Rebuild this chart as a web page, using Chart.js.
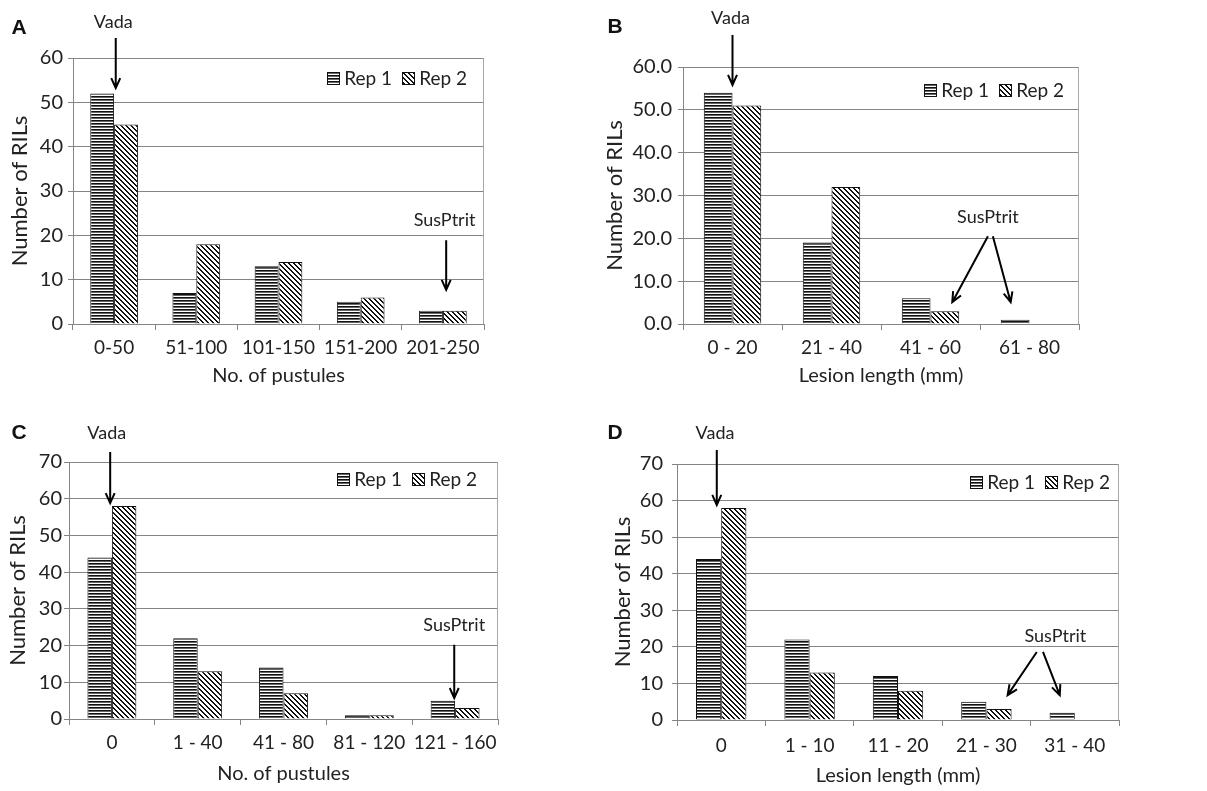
<!DOCTYPE html>
<html>
<head>
<meta charset="utf-8">
<title>RIL frequency distributions</title>
<script src="https://cdn.jsdelivr.net/npm/chart.js@4.4.1/dist/chart.umd.min.js"></script>
<style>
  body { margin: 0; background: #fff; }
  canvas { position: absolute; }
</style>
</head>
<body>
<canvas id="chartA" width="600" height="395" style="left:0;top:0"></canvas>
<canvas id="chartB" width="607" height="395" style="left:600px;top:0"></canvas>
<canvas id="chartC" width="600" height="396" style="left:0;top:395px"></canvas>
<canvas id="chartD" width="607" height="396" style="left:600px;top:395px"></canvas>
<script>
// Data
const seriesNames = ['Rep 1', 'Rep 2'];

const binsA = ['0-50', '51-100', '101-150', '151-200', '201-250'];
const rep1A = [52, 7, 13, 5, 3];
const rep2A = [45, 18, 14, 6, 3];

const binsB = ['0 - 20', '21 - 40', '41 - 60', '61 - 80'];
const rep1B = [54, 19, 6, 1];
const rep2B = [51, 32, 3, 0];

const binsC = ['0', '1 - 40', '41 - 80', '81 - 120', '121 - 160'];
const rep1C = [44, 22, 14, 1, 5];
const rep2C = [58, 13, 7, 1, 3];

const binsD = ['0', '1 - 10', '11 - 20', '21 - 30', '31 - 40'];
const rep1D = [44, 22, 12, 5, 2];
const rep2D = [58, 13, 8, 3, 0];

const FONT = 'Lato';
const TEXT = '#222';
const GRID = '#858585';

// hatch fills for the two reps
function makeHatch(kind) {
    const c = document.createElement('canvas');
    const g = c.getContext('2d');
    if (kind === 'horizontal') {
        c.width = 4; c.height = 3;
        g.fillStyle = '#fff'; g.fillRect(0, 0, 4, 3);
        g.fillStyle = '#111'; g.fillRect(0, 0, 4, 1);
        g.fillStyle = '#666'; g.fillRect(0, 1, 4, 1);
    } else {
        const s = 5;
        c.width = s; c.height = s;
        g.fillStyle = '#fff'; g.fillRect(0, 0, s, s);
        g.fillStyle = '#111';
        for (let i = 0; i < s; i++) {
            g.fillRect(i, i, 1, 1);
            g.fillRect((i + 1) % s, i, 1, 1);
        }
    }
    return g.createPattern(c, 'repeat');
}
const hatchH = makeHatch('horizontal');
const hatchD = makeHatch('diagonal');

function arrow(ctx, x0, y0, x1, y1) {
    const ang = Math.atan2(y1 - y0, x1 - x0);
    const head = 11, spread = 0.42;
    ctx.beginPath();
    ctx.moveTo(x0, y0);
    ctx.lineTo(x1, y1);
    ctx.moveTo(x1 - head * Math.cos(ang - spread), y1 - head * Math.sin(ang - spread));
    ctx.lineTo(x1, y1);
    ctx.lineTo(x1 - head * Math.cos(ang + spread), y1 - head * Math.sin(ang + spread));
    ctx.stroke();
}

// frame, legend, annotations and panel letter
const panelDeco = {
    id: 'panelDeco',
    beforeDatasetsDraw(chart) {
        const {ctx, chartArea: a} = chart;
        ctx.save();
        ctx.strokeStyle = '#a8a8a8';
        ctx.lineWidth = 1;
        const xr = Math.round(a.right) - 0.5;
        ctx.beginPath();
        ctx.moveTo(xr, a.top);
        ctx.lineTo(xr, a.bottom);
        ctx.stroke();
        ctx.restore();
    },
    afterDraw(chart, args, o) {
        const {ctx, chartArea: a, scales: {x, y}} = chart;
        const n = chart.data.labels.length;
        const px = c => x.getPixelForDecimal((c + 0.5) / n);
        ctx.save();

        // legend
        ctx.font = '19px ' + FONT;
        ctx.textBaseline = 'middle';
        ctx.textAlign = 'left';
        let xr = a.right - o.legendRight;
        const ly = a.top + o.legendDown;
        const ds = chart.data.datasets;
        for (let i = ds.length - 1; i >= 0; i--) {
            const w = ctx.measureText(ds[i].label).width;
            ctx.fillStyle = TEXT;
            ctx.fillText(ds[i].label, xr - w, ly + 1);
            const bx = Math.round(xr - w - 4 - 13);
            ctx.fillStyle = ds[i].backgroundColor;
            ctx.fillRect(bx, Math.round(ly - 6), 13, 13);
            ctx.strokeStyle = '#111';
            ctx.lineWidth = 1;
            ctx.strokeRect(bx + 0.5, Math.round(ly - 6) + 0.5, 12, 12);
            xr = bx - 10;
        }

        // Vada / SusPtrit arrows
        ctx.strokeStyle = '#000';
        ctx.lineWidth = 2;
        ctx.font = '18px ' + FONT;
        ctx.textAlign = 'center';
        o.notes.forEach(nt => {
            ctx.fillStyle = TEXT;
            ctx.fillText(nt.label, px(nt.at[0]), y.getPixelForValue(nt.at[1]));
            nt.arrows.forEach(([c0, v0, c1, v1]) => {
                arrow(ctx, px(c0), y.getPixelForValue(v0), px(c1), y.getPixelForValue(v1));
            });
        });

        // panel letter
        ctx.fillStyle = '#111';
        ctx.font = 'bold 21px "Liberation Sans"';
        ctx.textAlign = 'center';
        ctx.fillText(o.letter, o.letterAt[0], o.letterAt[1]);
        ctx.restore();
    }
};

function makeChart(id, cats, r1, r2, s) {
    return new Chart(document.getElementById(id), {
        type: 'bar',
        data: {
            labels: cats,
            datasets: [
                { label: seriesNames[0], data: r1, backgroundColor: hatchH, borderColor: '#111', borderWidth: 1,
                  categoryPercentage: s.catPct, barPercentage: 1 },
                { label: seriesNames[1], data: r2, backgroundColor: hatchD, borderColor: '#111', borderWidth: 1,
                  categoryPercentage: s.catPct, barPercentage: 1 }
            ]
        },
        options: {
            responsive: false,
            animation: false,
            events: [],
            layout: { padding: s.pad },
            plugins: {
                legend: { display: false },
                tooltip: { enabled: false },
                panelDeco: {
                    letter: s.letter, letterAt: s.letterAt,
                    legendRight: s.legendRight, legendDown: s.legendDown,
                    notes: s.notes
                }
            },
            scales: {
                x: {
                    grid: { drawOnChartArea: false, tickLength: 6, color: GRID },
                    border: { color: GRID },
                    ticks: { color: TEXT, font: { family: FONT, size: 19 }, padding: s.xTickPad, maxRotation: 0, autoSkip: false },
                    title: { display: true, text: s.xTitle, color: TEXT, font: { family: FONT, size: 20 }, padding: { top: 0, bottom: 2 } },
                    afterFit: sc => { sc.height = s.xH; }
                },
                y: {
                    min: 0,
                    max: s.max,
                    grid: { color: GRID, tickLength: 5 },
                    border: { color: GRID },
                    ticks: {
                        stepSize: 10, color: TEXT, padding: s.yTickPad,
                        font: { family: FONT, size: 20 },
                        callback: v => s.decimals ? v.toFixed(1) : v
                    },
                    title: { display: true, text: 'Number of RILs', color: TEXT, font: { family: FONT, size: 22 }, padding: { top: 0, bottom: 0 } },
                    afterFit: sc => { sc.width = s.yW; }
                }
            }
        },
        plugins: [panelDeco]
    });
}

makeChart('chartA', binsA, rep1A, rep2A, {
    letter: 'A', letterAt: [19, 28], max: 60, catPct: 0.58,
    pad: { left: 7, top: 58, right: 116, bottom: 5 }, yW: 66, xH: 66, xTickPad: 6, yTickPad: 5,
    legendRight: 17, legendDown: 20, xTitle: 'No. of pustules',
    notes: [
        { label: 'Vada', at: [-0.01, 68.1], arrows: [[0.02, 64.5, 0.02, 53.2]] },
        { label: 'SusPtrit', at: [4.02, 23.5], arrows: [[4.04, 18.9, 4.04, 7.7]] }
    ]
});

makeChart('chartB', binsB, rep1B, rep2B, {
    letter: 'B', letterAt: [15, 27], max: 60, catPct: 0.58, decimals: true,
    pad: { left: 2, top: 67, right: 128, bottom: 5 }, yW: 81, xH: 66, xTickPad: 6, yTickPad: 6,
    legendRight: 15, legendDown: 23, xTitle: 'Lesion length (mm)',
    notes: [
        { label: 'Vada', at: [-0.02, 71.4], arrows: [[0, 67.5, 0, 55.8]] },
        { label: 'SusPtrit', at: [2.58, 25], arrows: [[2.58, 20.5, 2.22, 5.1], [2.63, 20.5, 2.81, 5.1]] }
    ]
});

makeChart('chartC', binsC, rep1C, rep2C, {
    letter: 'C', letterAt: [19, 38], max: 70, catPct: 0.57,
    pad: { left: 5, top: 67, right: 102, bottom: 3 }, yW: 64, xH: 69, xTickPad: 6, yTickPad: 2,
    legendRight: 21, legendDown: 17, xTitle: 'No. of pustules',
    notes: [
        { label: 'Vada', at: [-0.06, 77.9], arrows: [[-0.02, 72.7, -0.02, 58.8]] },
        { label: 'SusPtrit', at: [3.99, 25.6], arrows: [[3.99, 20.2, 3.99, 5.7]] }
    ]
});

makeChart('chartD', binsD, rep1D, rep2D, {
    letter: 'D', letterAt: [15, 38], max: 70, catPct: 0.57,
    pad: { left: 10, top: 69, right: 88, bottom: 1 }, yW: 67, xH: 70, xTickPad: 8, yTickPad: 9,
    legendRight: 9, legendDown: 18, xTitle: 'Lesion length (mm)',
    notes: [
        { label: 'Vada', at: [-0.07, 78.5], arrows: [[-0.05, 73.8, -0.05, 58.8]] },
        { label: 'SusPtrit', at: [3.78, 23], arrows: [[3.57, 18.6, 3.24, 6.8], [3.64, 18.6, 3.83, 6.8]] }
    ]
});
</script>
</body>
</html>
